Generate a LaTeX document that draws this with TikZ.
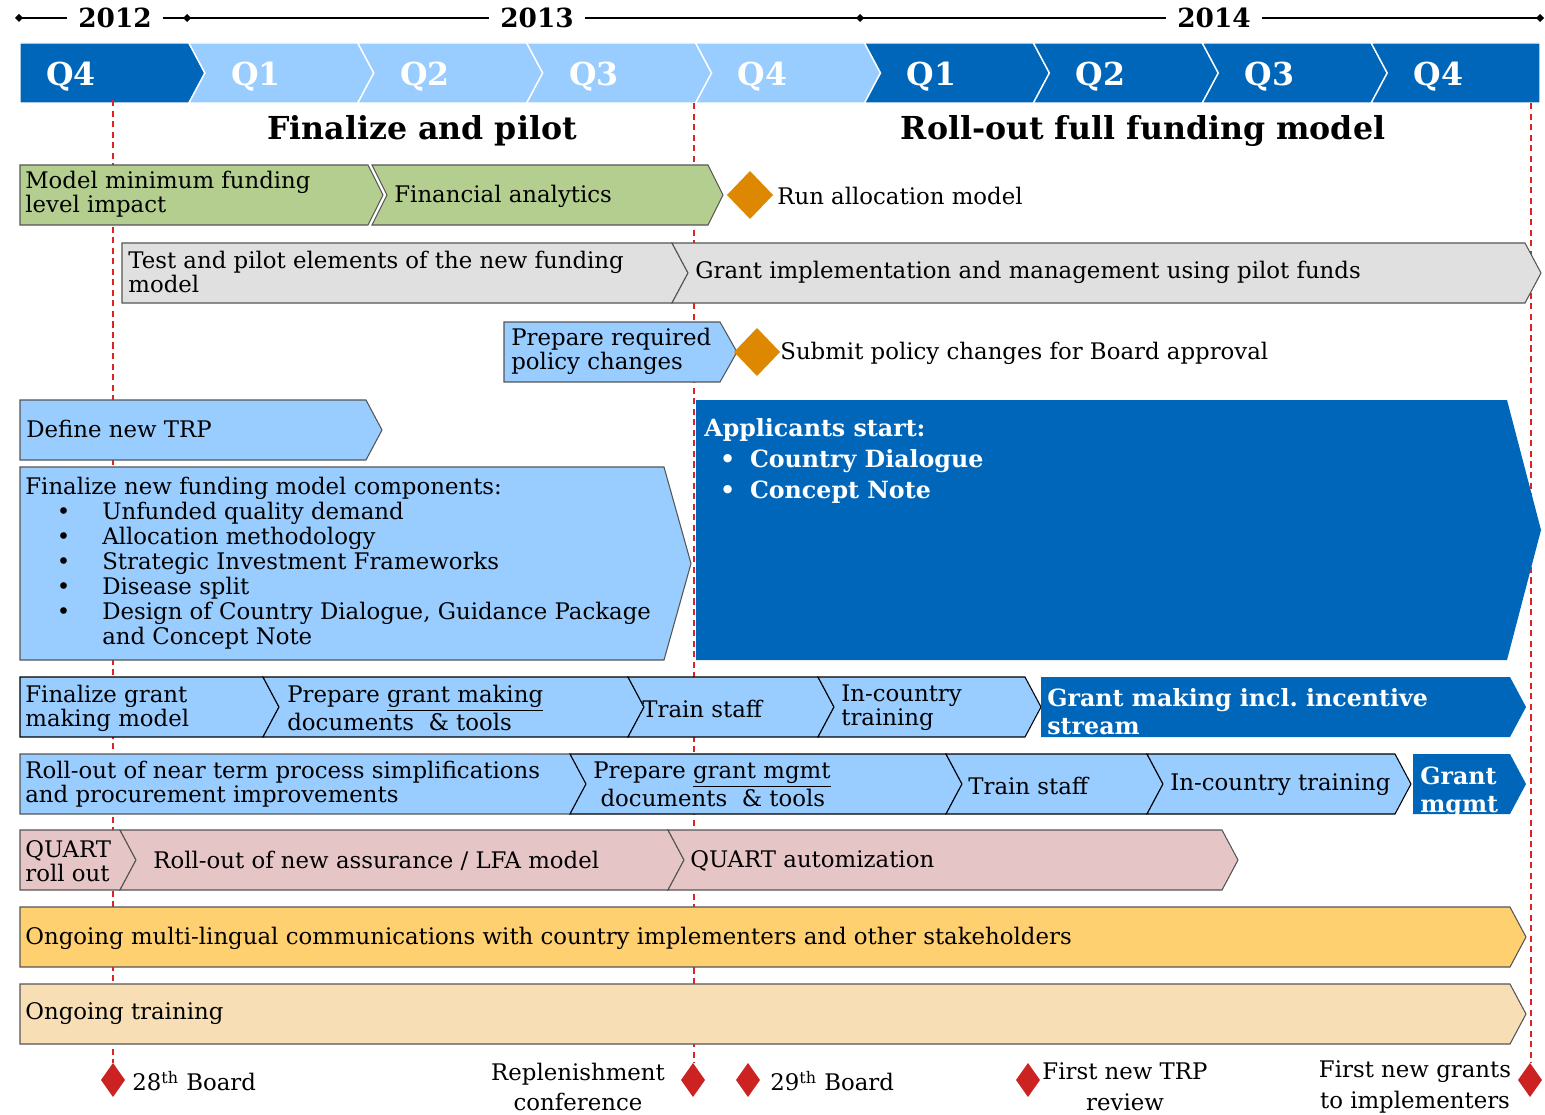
\documentclass[tikz,border=0pt]{standalone}
\usepackage{fontspec}
\setmainfont{DejaVu Serif}

\definecolor{qdark}{HTML}{0066BA}
\definecolor{qlight}{HTML}{99CCFF}
\definecolor{leaf}{HTML}{B4CE8F}
\definecolor{stone}{HTML}{E0E0E0}
\definecolor{blush}{HTML}{E6C5C7}
\definecolor{sun}{HTML}{FFD070}
\definecolor{sand}{HTML}{F8DEB5}
\definecolor{amber}{HTML}{DD8800}
\definecolor{ruby}{HTML}{CC2222}
\definecolor{guide}{HTML}{E02222}
\definecolor{edge}{HTML}{555555}

\tikzset{
  box/.style={draw=edge, line width=0.6pt},
  boxdark/.style={draw=black, line width=0.6pt},
  lbl/.style={anchor=west, align=left, inner sep=0pt, font=\fontsize{13}{13.7}\selectfont},
  wlbl/.style={lbl, text=white, font=\fontsize{13.5}{16}\selectfont\bfseries},
  qlbl/.style={anchor=west, inner sep=0pt, text=white, font=\fontsize{18}{20}\selectfont\bfseries},
  yr/.style={inner xsep=6pt, inner ysep=0pt, font=\fontsize{15}{16}\selectfont\bfseries},
  phase/.style={inner sep=0pt, font=\fontsize{18}{20}\selectfont\bfseries},
  mile/.style={inner sep=0pt, align=center, font=\fontsize{13}{17.6}\selectfont},
  yearline/.style={draw=black, line width=0.7pt},
  guideline/.style={draw=guide, line width=0.8pt, dash pattern=on 3.5pt off 2.5pt}
}

% task bar with flat left end: [tip] {style} {x left} {x right} {y top} {y bottom}
\newcommand{\pentbox}[6][16]{%
  \path[#2] (#3,#5) -- (#4,#5) -- (#4+#1,{(#5+#6)/2}) -- (#4,#6) -- (#3,#6) -- cycle;}
% task bar notched on the left
\newcommand{\chevbox}[6][16]{%
  \path[#2] (#3,#5) -- (#4,#5) -- (#4+#1,{(#5+#6)/2}) -- (#4,#6) -- (#3,#6) -- (#3+#1,{(#5+#6)/2}) -- cycle;}
% milestone diamond: {colour} {x} {y} {half width} {half height}
\newcommand{\gem}[5]{%
  \fill[#1] (#2-#4,#3) -- (#2,#3-#5) -- (#2+#4,#3) -- (#2,#3+#5) -- cycle;}

\begin{document}
\begin{tikzpicture}[x=0.02cm, y=-0.02cm]
\useasboundingbox (0,0) rectangle (1545,1115);

% years
\coordinate (t0) at (19,18);
\coordinate (t3) at (1540,18);
\node[yr] (y12) at (115,18) {2012};
\node[yr] (y13) at (537,18) {2013};
\node[yr] (y14) at (1214,18) {2014};
\draw[yearline] (t0) -- (y12);
\draw[yearline] (y12) -- (y13);
\draw[yearline] (y13) -- (y14);
\draw[yearline] (y14) -- (t3);
\foreach \x in {19,187,860,1540}
  {\gem{black}{\x}{18}{4}{4}}

% quarters
\foreach \q/\col [count=\i from 0] in {Q4/qdark,Q1/qlight,Q2/qlight,Q3/qlight,Q4/qlight,Q1/qdark,Q2/qdark,Q3/qdark,Q4/qdark}
{
  \pgfmathsetmacro{\xl}{20+\i*168.9}
  \pgfmathsetmacro{\xr}{\xl+168.9}
  \ifnum\i=0 \def\nd{0}\else\def\nd{16}\fi
  \ifnum\i=8 \def\td{0}\else\def\td{16}\fi
  \filldraw[fill=\col, draw=white, line width=0.8pt] (\xl,43) -- (\xr,43) -- (\xr+\td,73) -- (\xr,103) -- (\xl,103) -- (\xl+\nd,73) -- cycle;
  \node[qlbl] (q\i) at (\xl+\nd+26,77) {\q};
}

\node[phase] (pilot) at (422,131) {Finalize and pilot};
\node[phase] (rollout) at (1143,131) {Roll-out full funding model};

% milestone guides
\draw[guideline] (113,100) -- (113,1063);
\draw[guideline] (694,103) -- (694,1063);
\draw[guideline] (1531,103) -- (1531,1063);

% row 1
\pentbox[15]{box, fill=leaf}{20}{368}{165}{225}
\chevbox[15]{box, fill=leaf}{372}{708}{165}{225}
\node[lbl] (minfund) at (25,194) {Model minimum funding\\level impact};
\node[lbl] (analytics) at (394,196) {Financial analytics};
\gem{amber}{750}{195}{23}{24}
\node[lbl] (runalloc) at (777,196) {Run allocation model};

% row 2
\pentbox{box, fill=stone}{122}{672}{243}{303}
\chevbox{box, fill=stone}{672}{1525}{243}{303}
\node[lbl] (testpilot) at (128,272) {Test and pilot elements of the new funding\\model};
\node[lbl] (grantimpl) at (695,272) {Grant implementation and management using pilot funds};

% row 3
\pentbox[17]{box, fill=qlight}{504}{720}{322}{382}
\gem{amber}{757}{352}{23}{24}
\node[lbl] (policy) at (511,351) {Prepare required\\policy changes};
\node[lbl] (submit) at (780,353) {Submit policy changes for Board approval};

% rows 4 and 5
\pentbox{box, fill=qlight}{20}{366}{400}{460}
\node[lbl] (trp) at (26,429) {Define new TRP};
\pentbox[27]{box, fill=qlight}{20}{664}{467}{660}
\node[lbl, font=\fontsize{13}{14.2}\selectfont] (components) at (25,563)
  {Finalize new funding model components:\\
   \makebox[43.8pt][l]{\hspace{18pt}\textbullet}Unfunded quality demand\\
   \makebox[43.8pt][l]{\hspace{18pt}\textbullet}Allocation methodology\\
   \makebox[43.8pt][l]{\hspace{18pt}\textbullet}Strategic Investment Frameworks\\
   \makebox[43.8pt][l]{\hspace{18pt}\textbullet}Disease split\\
   \makebox[43.8pt][l]{\hspace{18pt}\textbullet}Design of Country Dialogue, Guidance Package\\
   \hspace*{43.8pt}and Concept Note};
\pentbox[34]{fill=qdark}{696}{1507}{400}{660}
\node[wlbl, anchor=north west, font=\fontsize{13.5}{17.6}\selectfont\bfseries] (applicants) at (704,418)
  {Applicants start:\\
   \makebox[26pt][l]{\hspace{9pt}\textbullet}Country Dialogue\\
   \makebox[26pt][l]{\hspace{9pt}\textbullet}Concept Note};

% row 6
\pentbox{boxdark, fill=qlight}{20}{263}{677}{737}
\chevbox{boxdark, fill=qlight}{263}{628}{677}{737}
\chevbox{boxdark, fill=qlight}{628}{818}{677}{737}
\chevbox{boxdark, fill=qlight}{818}{1025}{677}{737}
\pentbox{fill=qdark}{1041}{1510}{677}{737}
\node[lbl] (gmmodel) at (25,708) {Finalize grant\\making model};
\node[lbl] (gmdocs) at (287,708) {Prepare \underline{grant making}\\documents\ \ \& tools};
\node[lbl] (train1) at (642,709) {Train staff};
\node[lbl] (country1) at (841,708) {In-country\\training};
\node[wlbl] (gmaking) at (1047,712) {Grant making incl.\ incentive\\stream};

% row 7
\pentbox{box, fill=qlight}{20}{570}{754}{814}
\chevbox{boxdark, fill=qlight}{570}{946}{754}{814}
\chevbox{boxdark, fill=qlight}{946}{1147}{754}{814}
\chevbox{boxdark, fill=qlight}{1147}{1395}{754}{814}
\pentbox{fill=qdark}{1413}{1510}{754}{814}
\node[lbl] (simplify) at (25,784) {Roll-out of near term process simplifications\\and procurement improvements};
\node[lbl] (mgmtdocs) at (593,784) {Prepare \underline{grant mgmt}\\\ documents\ \ \&\ tools};
\node[lbl] (train2) at (968,786) {Train staff};
\node[lbl] (country2) at (1170,785) {In-country training};
\node[wlbl] (gmgmt) at (1420,792) {Grant\\mgmt};

% row 8
\pentbox{box, fill=blush}{20}{120}{830}{890}
\chevbox{box, fill=blush}{120}{668}{830}{890}
\chevbox{box, fill=blush}{668}{1222}{830}{890}
\node[lbl] (quart) at (25,861) {QUART\\roll out};
\node[lbl] (lfa) at (153,861) {Roll-out of new assurance / LFA model};
\node[lbl] (automize) at (690,861) {QUART automization};

% rows 9 and 10
\pentbox{box, fill=sun}{20}{1510}{907}{967}
\node[lbl] (comms) at (25,938) {Ongoing multi-lingual communications with country implementers and other stakeholders};
\pentbox{box, fill=sand}{20}{1510}{984}{1044}
\node[lbl] (training) at (25,1014) {Ongoing training};

% milestones
\gem{ruby}{113}{1080}{12}{17}
\node[mile, anchor=west] (b28) at (132,1081) {28\textsuperscript{th} Board};
\gem{ruby}{693}{1080}{12}{17}
\node[mile] (repl) at (578,1087) {Replenishment\\conference};
\gem{ruby}{748}{1080}{12}{17}
\node[mile, anchor=west] (b29) at (770,1081) {29\textsuperscript{th} Board};
\gem{ruby}{1028}{1080}{12}{17}
\node[mile] (firsttrp) at (1125,1087) {First new TRP\\review};
\gem{ruby}{1530}{1080}{12}{17}
\node[mile] (firstgrants) at (1415,1087) {First new grants\\to implementers};
\end{tikzpicture}
\end{document}
